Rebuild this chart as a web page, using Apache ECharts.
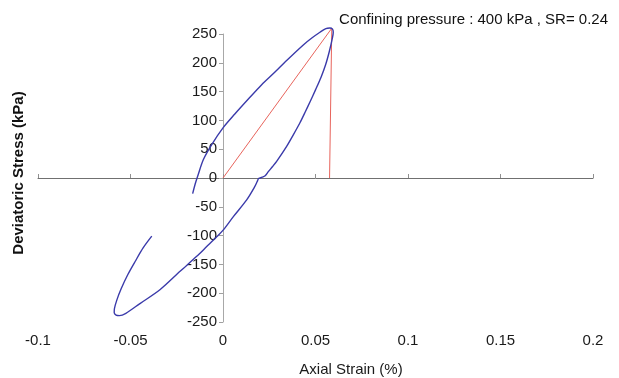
<!DOCTYPE html>
<html>
<head>
<meta charset="utf-8">
<script src="https://cdn.jsdelivr.net/npm/echarts@6/dist/echarts.min.js"></script>
<style>
  html, body { margin: 0; padding: 0; background: #fff; }
  #chart { width: 619px; height: 378px; }
</style>
</head>
<body>
<div id="chart"></div>
<script>
// Hysteresis loop: axial strain (%) vs deviatoric stress (kPa)
const loopStrain = [
  -0.0385, -0.0431, -0.0475, -0.0515, -0.0550, -0.0574, -0.0587, -0.0588, -0.0578, -0.0560,
  -0.0525, -0.0449, -0.0341, -0.0232, -0.0142, -0.0088, -0.0034, 0.0002, 0.0056, 0.0128,
  0.0170, 0.0185, 0.0192, 0.0200, 0.0212, 0.0228, 0.0245, 0.0268, 0.0290, 0.0344,
  0.0380, 0.0416, 0.0445, 0.0470, 0.0500, 0.0530, 0.0555, 0.0575, 0.0590, 0.0596,
  0.0592, 0.0578, 0.0556, 0.0524, 0.0480, 0.0434, 0.0344, 0.0281, 0.0209, 0.0137,
  0.0064, 0.0000, -0.0061, -0.0106, -0.0137, -0.0150, -0.0164
];
const loopStress = [
  -101, -121, -145, -168, -192, -212, -227, -234, -238, -239,
  -235, -218, -194, -162, -136, -119, -102, -90, -67, -38,
  -16, -6, -1, 0, 1.5, 4, 11, 20, 29, 55,
  75, 96, 115, 132, 153, 175, 197, 220, 241, 253,
  258.5, 260.5, 259.5, 253, 243, 231, 204, 184, 162, 137,
  111, 87, 58, 32, 3, -10, -27
];

// Secant line to the peak and its drop back to the strain axis
const secantStrain = [0, 0.0588, 0.0576];
const secantStress = [0, 260, 0];

// Axis ranges and tick spacing
const strainMin = -0.1, strainMax = 0.2, strainStep = 0.05;
const stressMin = -250, stressMax = 250, stressStep = 50;

const titleText = 'Confining pressure : 400 kPa , SR= 0.24';
const xName = 'Axial Strain (%)';
const yName = 'Deviatoric Stress (kPa)';

const pairs = (xs, ys) => xs.map((x, i) => [x, ys[i]]);

const FONT = '"Liberation Sans", Arial, Helvetica, sans-serif';
const GRID = { left: 38, right: 26, top: 34, bottom: 56 };
const gridWidth = 619 - GRID.left - GRID.right;
// shift the labelled stress axis from the grid edge to strain = 0
const stressAxisOffset = -((0 - strainMin) / (strainMax - strainMin)) * gridWidth;

const chart = echarts.init(document.getElementById('chart'), null, { renderer: 'canvas' });

chart.setOption({
  backgroundColor: '#ffffff',
  animation: false,
  title: {
    text: titleText,
    right: 6,
    top: 7,
    textStyle: { fontFamily: FONT, fontSize: 15, fontWeight: 'normal', color: '#111' }
  },
  grid: Object.assign({ containLabel: false }, GRID),
  xAxis: [
    {
      type: 'value', position: 'top',
      min: strainMin, max: strainMax, interval: strainStep,
      axisLine: { show: true, onZero: true, onZeroAxisIndex: 0, lineStyle: { color: '#707070', width: 1 } },
      axisTick: { show: true, inside: false, length: 4, lineStyle: { color: '#909090' } },
      axisLabel: { show: false },
      splitLine: { show: false }
    },
    {
      type: 'value', position: 'bottom',
      min: strainMin, max: strainMax, interval: strainStep,
      axisLine: { show: false, onZero: false },
      axisTick: { show: false },
      axisLabel: { show: true, margin: 11, fontFamily: FONT, fontSize: 15, color: '#1a1a1a' },
      splitLine: { show: false }
    }
  ],
  yAxis: [
    {
      type: 'value', position: 'left',
      min: stressMin, max: stressMax, interval: stressStep,
      axisLine: { show: true, onZero: true, onZeroAxisIndex: 0, lineStyle: { color: '#a8a8a8', width: 1 } },
      axisTick: { show: true, length: 4, lineStyle: { color: '#a0a0a0' } },
      axisLabel: { show: false },
      splitLine: { show: false }
    },
    {
      type: 'value', position: 'left', offset: stressAxisOffset,
      min: stressMin, max: stressMax, interval: stressStep,
      axisLine: { show: false, onZero: false },
      axisTick: { show: false },
      axisLabel: { show: true, margin: 6, fontFamily: FONT, fontSize: 15, color: '#1a1a1a' },
      splitLine: { show: false }
    }
  ],
  graphic: [
    {
      type: 'text', x: 351, y: 370,
      style: { text: xName, font: '15px ' + FONT, fill: '#1a1a1a', textAlign: 'center', textVerticalAlign: 'middle' }
    },
    {
      type: 'text', x: 19, y: 173, rotation: Math.PI / 2,
      style: { text: yName, font: 'bold 15px ' + FONT, fill: '#111', textAlign: 'center', textVerticalAlign: 'middle' }
    }
  ],
  series: [
    {
      type: 'line', xAxisIndex: 0, yAxisIndex: 0,
      data: pairs(secantStrain, secantStress),
      showSymbol: false, clip: false, smooth: false,
      lineStyle: { color: '#e8645c', width: 1 }
    },
    {
      type: 'line', xAxisIndex: 0, yAxisIndex: 0,
      data: pairs(loopStrain, loopStress),
      showSymbol: false, clip: false, smooth: 0.3,
      lineStyle: { color: '#3a3aaa', width: 1.4 }
    }
  ]
});
</script>
</body>
</html>
